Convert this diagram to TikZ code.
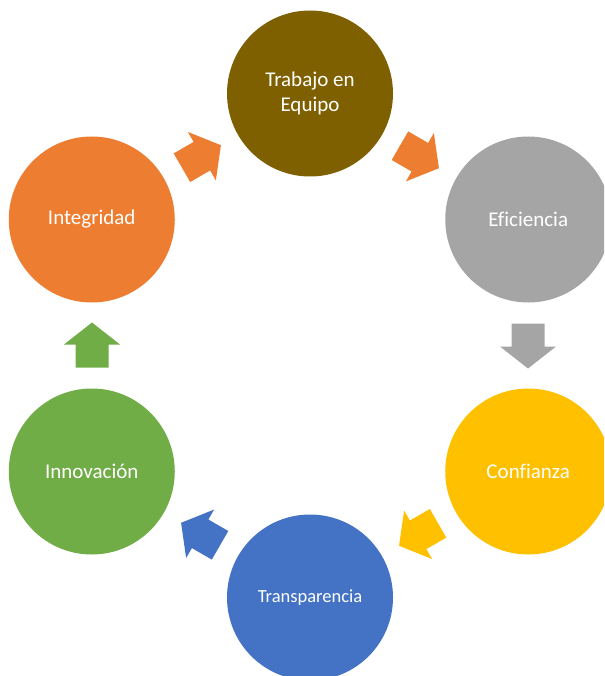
\documentclass[tikz,border=0pt]{standalone}
\usepackage{fontspec}
\setmainfont{Carlito}[Ligatures=NoCommon]
\usetikzlibrary{calc}
\definecolor{cBrown}{HTML}{7F6000}
\definecolor{cGray}{HTML}{A5A5A5}
\definecolor{cGold}{HTML}{FFC000}
\definecolor{cBlue}{HTML}{4472C4}
\definecolor{cGreen}{HTML}{70AD47}
\definecolor{cOrange}{HTML}{ED7D31}
\tikzset{
  bubble/.style={circle, minimum size=166pt, inner sep=0pt, text=white,
    font=\fontsize{21}{25}\selectfont, align=center},
  blockarrow/.pic={
    \fill[pic actions] (-22,-16.5) -- (1,-16.5) -- (1,-28) -- (23,0) -- (1,28) -- (1,16.5) -- (-22,16.5) -- cycle;
  }
}
\begin{document}
\begin{tikzpicture}[x=1pt,y=1pt]
\useasboundingbox (0,0) rectangle (604,-676);
\clip (0,0) rectangle (604,-676);
\coordinate (ring) at (310,-345.5);
\node[bubble, fill=cBrown] (trabajo) at ($(ring)+(90:252)$) {Trabajo en\\Equipo};
\node[bubble, fill=cGray] (eficiencia) at ($(ring)+(30:252)$) {Eficiencia};
\node[bubble, fill=cGold] (confianza) at ($(ring)+(-30:252)$) {Confianza};
\node[bubble, fill=cBlue, font=\fontsize{18.5}{22}\selectfont] (transparencia) at ($(ring)+(-90:252)$) {Transparencia};
\node[bubble, fill=cGreen] (innovacion) at ($(ring)+(-150:252)$) {Innovación};
\node[bubble, fill=cOrange] (integridad) at ($(ring)+(150:252)$) {Integridad};
\foreach \ang/\col in {120/cOrange, 60/cOrange, 0/cGray, -60/cGold, -120/cBlue, 180/cGreen}{
  \pgfmathsetmacro{\rot}{\ang-90}
  \pic[fill=\col, rotate=\rot] at ($(ring)+(\ang:218)$) {blockarrow};
}
\end{tikzpicture}
\end{document}
